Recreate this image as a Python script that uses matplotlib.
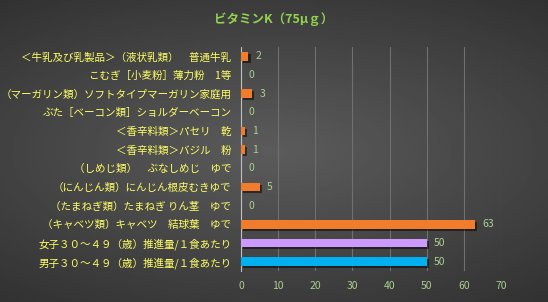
import numpy as np
import matplotlib.pyplot as plt
import matplotlib.patheffects as pe

plt.rcParams['font.family'] = ['Noto Sans CJK JP', 'DejaVu Sans']

# top to bottom as shown
labels = [
    '＜牛乳及び乳製品＞（液状乳類）　普通牛乳',
    'こむぎ［小麦粉］薄力粉　1等',
    '（マーガリン類）ソフトタイプマーガリン家庭用',
    'ぶた［ベーコン類］ショルダーベーコン',
    '＜香辛料類＞パセリ　乾',
    '＜香辛料類＞バジル　粉',
    '（しめじ類）　ぶなしめじ　ゆで',
    '（にんじん類）にんじん根皮むきゆで',
    '（たまねぎ類）たまねぎ りん茎　ゆで',
    '（キャベツ類）キャベツ　結球葉　ゆで',
    '女子３０～４９（歳）推進量/１食あたり',
    '男子３０～４９（歳）推進量/１食あたり',
]
values = [2, 0, 3, 0, 1, 1, 0, 5, 0, 63, 50, 50]
bar_colors = ['#F07C2C'] * 10 + ['#CC99FF', '#00B0F0']
ticks = [0, 10, 20, 30, 40, 50, 60, 70]

fig = plt.figure(figsize=(5.48, 3.02), dpi=100)

# radial-ish dark background
bg = fig.add_axes([0, 0, 1, 1])
yy, xx = np.mgrid[-1:1:200j, -1:1:300j]
r = np.sqrt((xx * 0.8) ** 2 + (yy * 1.0) ** 2)
bg.imshow(0.36 - 0.18 * np.clip(r, 0, 1.4) / 1.4, cmap='gray', vmin=0, vmax=1,
          aspect='auto', extent=[0, 1, 0, 1])
bg.axis('off')

ax = fig.add_axes([241 / 548, 1 - 271 / 302, 260 / 548, 224 / 302])
ax.set_facecolor('none')

y = np.arange(len(values))[::-1]
shadow = [pe.SimplePatchShadow(offset=(1.5, -1.5), shadow_rgbFace='black', alpha=0.5), pe.Normal()]
bars = ax.barh(y, values, height=0.47, color=bar_colors, zorder=3)
for b in bars:
    b.set_path_effects(shadow)

for yi, v in zip(y, values):
    ax.text(v + 2.0, yi, str(v), va='center', ha='left', fontsize=7.5, color='#A9D18E')

ax.set_xlim(0, 70)
ax.set_ylim(-0.5, len(values) - 0.5)
ax.set_xticks(ticks)
ax.set_yticks(y)
ax.set_yticklabels(labels)
ax.tick_params(axis='y', length=0, pad=7, labelsize=7.6, labelcolor='#FFFF66')
ax.tick_params(axis='x', length=0, pad=7, labelsize=7.5, labelcolor='#A9D18E')
ax.grid(axis='x', color='#707070', linewidth=0.8, zorder=0)
for s in ['top', 'right', 'bottom']:
    ax.spines[s].set_visible(False)
ax.spines['left'].set_color('#BFBFBF')
ax.spines['left'].set_linewidth(0.8)

fig.text(0.5, 1 - 19 / 302, 'ビタミンK（75μｇ）', ha='center', va='center',
         fontsize=9, fontweight='bold', color='#92D050')

fig.savefig('out.png', dpi=100)
